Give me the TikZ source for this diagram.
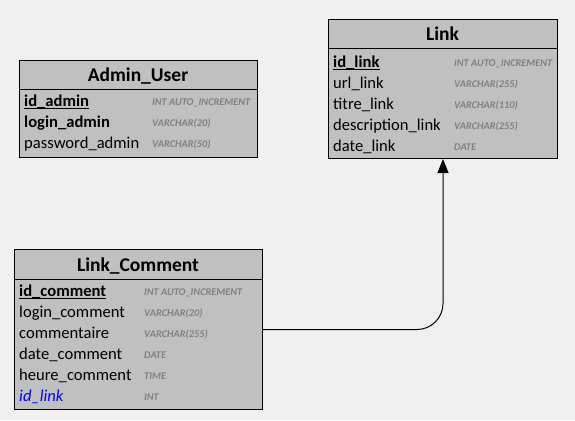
\documentclass[tikz,border=0pt]{standalone}
\usepackage{fontspec}
\setmainfont{Carlito}
\usetikzlibrary{arrows.meta}
\definecolor{bgcol}{HTML}{F0F0F0}
\definecolor{boxcol}{HTML}{C0C0C0}
\definecolor{typecol}{HTML}{808080}
\definecolor{fkcol}{HTML}{0000FF}

\begin{document}
\begin{tikzpicture}[x=1pt,y=-1pt,%
  tbl/.style={draw,fill=boxcol,line width=1pt,anchor=north west,inner sep=0pt},%
  ttl/.style={font=\fontsize{19.5}{22}\selectfont\bfseries,anchor=base,inner sep=0pt},%
  fld/.style={font=\fontsize{16.6}{19}\selectfont,anchor=base west,inner sep=0pt},%
  key/.style={fld,font=\fontsize{16.6}{19}\selectfont\bfseries},%
  fkey/.style={fld,font=\fontsize{16.6}{19}\selectfont\itshape,text=fkcol},%
  typ/.style={font=\fontsize{10.3}{12}\selectfont\bfseries\itshape,text=typecol,anchor=base west,inner sep=0pt},%
  pkline/.style={line width=1.3pt},%
  fk/.style={line width=1pt,rounded corners=26pt,-{Triangle[width=11pt,length=14pt]}}]%
\useasboundingbox[fill=bgcol] (0,0) rectangle (575,420);%
% admin table
\node[tbl,minimum width=238pt,minimum height=97pt] (admin) at (19,60) {};%
\draw[line width=1pt] (admin.west |- 0,89) -- (admin.east |- 0,89);%
\node[ttl] (adminttl) at (138,81.5) {Admin\_User};%
\node[key] (idadmin) at (24,106) {id\_admin};%
\node[key] (loginadmin) at (24,127) {login\_admin};%
\node[fld] (pwdadmin) at (24,148) {password\_admin};%
\node[typ] (tidadmin) at (152,105.5) {INT AUTO\_INCREMENT};%
\node[typ] (tloginadmin) at (152,126.5) {VARCHAR(20)};%
\node[typ] (tpwdadmin) at (152,147.5) {VARCHAR(50)};%
\draw[pkline] ([yshift=-2.3pt]idadmin.base west) -- ([yshift=-2.3pt]idadmin.base east);%
% link table
\node[tbl,minimum width=229pt,minimum height=139pt] (link) at (328,19) {};%
\draw[line width=1pt] (link.west |- 0,49) -- (link.east |- 0,49);%
\node[ttl] (linkttl) at (442.5,41) {Link};%
\node[key] (idlink) at (333,67) {id\_link};%
\node[fld] (urllink) at (333,88) {url\_link};%
\node[fld] (titrelink) at (333,109) {titre\_link};%
\node[fld] (desclink) at (333,130) {description\_link};%
\node[fld] (datelink) at (333,151) {date\_link};%
\node[typ] (tidlink) at (454,66.5) {INT AUTO\_INCREMENT};%
\node[typ] (turllink) at (454,87.5) {VARCHAR(255)};%
\node[typ] (ttitrelink) at (454,108.5) {VARCHAR(110)};%
\node[typ] (tdesclink) at (454,129.5) {VARCHAR(255)};%
\node[typ] (tdatelink) at (454,150.5) {DATE};%
\draw[pkline] ([yshift=-2.3pt]idlink.base west) -- ([yshift=-2.3pt]idlink.base east);%
% comment table
\node[tbl,minimum width=248pt,minimum height=160pt] (comment) at (14,249) {};%
\draw[line width=1pt] (comment.west |- 0,279) -- (comment.east |- 0,279);%
\node[ttl] (commentttl) at (138,271) {Link\_Comment};%
\node[key] (idcomment) at (19,296) {id\_comment};%
\node[fld] (logincomment) at (19,317) {login\_comment};%
\node[fld] (txtcomment) at (19,338) {commentaire};%
\node[fld] (datecomment) at (19,359) {date\_comment};%
\node[fld] (heurecomment) at (19,380) {heure\_comment};%
\node[fkey] (idlinkcomment) at (19,401) {id\_link};%
\node[typ] (tidcomment) at (144,295.5) {INT AUTO\_INCREMENT};%
\node[typ] (tlogincomment) at (144,316.5) {VARCHAR(20)};%
\node[typ] (ttxtcomment) at (144,337.5) {VARCHAR(255)};%
\node[typ] (tdatecomment) at (144,358.5) {DATE};%
\node[typ] (theurecomment) at (144,379.5) {TIME};%
\node[typ] (tidlinkcomment) at (144,400.5) {INT};%
\draw[pkline] ([yshift=-2.3pt]idcomment.base west) -- ([yshift=-2.3pt]idcomment.base east);%
% relation
\draw[fk] (comment.east) -| (link.south);%
\end{tikzpicture}
\end{document}
